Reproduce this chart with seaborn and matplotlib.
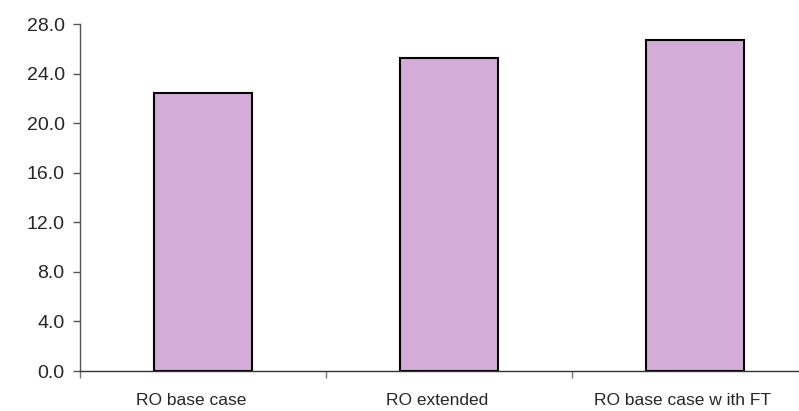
import matplotlib
matplotlib.use('Agg')
import matplotlib.pyplot as plt
import matplotlib.transforms as mtransforms
import seaborn as sns
import pandas as pd
from matplotlib.ticker import FixedLocator, FormatStrFormatter

categories = ['RO base case', 'RO extended', 'RO base case w ith FT']
values = [22.45, 25.25, 26.7]

sns.set_style('white')
plt.rcParams['font.family'] = ['Liberation Sans', 'DejaVu Sans']

data = pd.DataFrame({'case': categories, 'value': values})

fig = plt.figure(figsize=(7.99, 4.11), dpi=100)
ax = fig.add_axes([0.1001, 0.0973, 0.9236, 0.8443])

sns.barplot(data=data, x='case', y='value', color='#D3ACD8', width=0.4,
            edgecolor='black', linewidth=1.5, saturation=1, ax=ax)

ax.set_xlim(-0.5, 2.5)
ax.set_ylim(0, 28)
ax.set_yticks(range(0, 29, 4))
ax.yaxis.set_major_formatter(FormatStrFormatter('%.1f'))
ax.set_xlabel('')
ax.set_ylabel('')

for s in ['top', 'right']:
    ax.spines[s].set_visible(False)
ax.spines['left'].set_color('#555555')
ax.spines['bottom'].set_color('#333333')
ax.spines['left'].set_linewidth(1)
ax.spines['bottom'].set_linewidth(1)

ax.tick_params(axis='y', which='major', length=5, width=1, color='#555555',
               labelsize=14, left=True, pad=6)
ax.tick_params(axis='x', which='major', length=0, labelsize=12.5, pad=16)
ax.xaxis.set_minor_locator(FixedLocator([-0.5, 0.5, 1.5, 2.5]))
ax.tick_params(axis='x', which='minor', length=5, width=1, color='#777777',
               bottom=True, direction='out')

# category labels sit a little left of the bar centres
shift = mtransforms.ScaledTranslation(-12 / 100, 0, fig.dpi_scale_trans)
for lab in ax.get_xticklabels():
    lab.set_transform(lab.get_transform() + shift)

fig.savefig('out.png', dpi=100)
